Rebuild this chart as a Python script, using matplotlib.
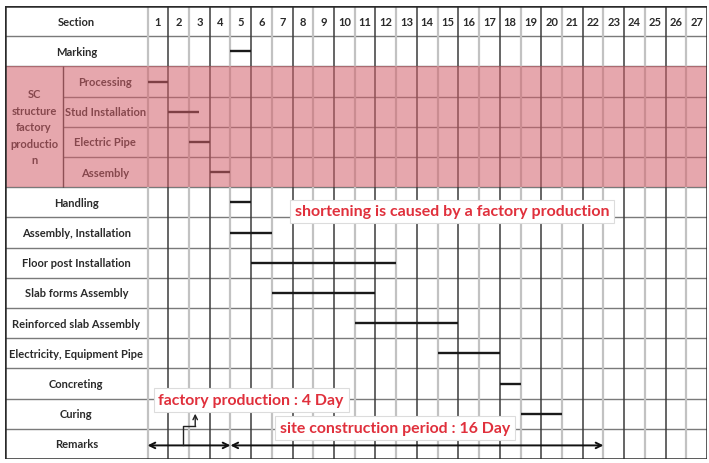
import matplotlib.pyplot as plt
import matplotlib.patches as mpatches

# ---- data ----
days = list(range(1, 28))
tasks = ["Marking", "Processing", "Stud Installation", "Electric Pipe", "Assembly",
         "Handling", "Assembly, Installation", "Floor post Installation",
         "Slab forms Assembly", "Reinforced slab Assembly",
         "Electricity, Equipment Pipe", "Concreting", "Curing"]
starts = [4, 0, 1, 2, 3, 4, 4, 5, 6, 10, 14, 17, 18]
ends = [5, 1, 2.5, 3, 4, 5, 6, 12, 11, 15, 17, 18, 20]
factory_tasks = ["Processing", "Stud Installation", "Electric Pipe", "Assembly"]
group_label = "SC\nstructure\nfactory\nproductio\nn"
factory_period = (0, 4)
site_period = (4, 22)
note_shorten = "shortening is caused by a factory production"
note_factory = "factory production : 4 Day"
note_site = "site construction period : 16 Day"

FONT = ["Lato", "DejaVu Sans"]
RED = "#e0303c"
TXT = "#2a2a2a"
LBL = 8

n_cols = len(days)
rows = ["Section"] + tasks + ["Remarks"]
n_rows = len(rows)
x_left = -6.88      # left edge of label area (in day units)
x_sub = -4.08       # divider between group column and sub-task column

fig = plt.figure(figsize=(7.09, 4.64), dpi=100)
ax = fig.add_axes([5 / 709, 4 / 464, 702 / 709, 453 / 464])
ax.set_xlim(x_left, n_cols)
ax.set_ylim(n_rows, 0)
ax.axis("off")

# ---- grid ----
first_f = rows.index(factory_tasks[0])
last_f = rows.index(factory_tasks[-1]) + 1
for r in range(1, n_rows):
    x0 = x_sub if first_f < r < last_f else x_left
    ax.hlines(r, x0, n_cols, color="#7a7a7a", lw=1.0, zorder=1)
for c in range(0, n_cols):
    if c % 2 == 1:
        ax.vlines(c, 0, n_rows, color="#3c3c3c", lw=1.1, zorder=1)
    else:
        ax.vlines(c, 0, n_rows, color="#c2c2c2", lw=1.6, zorder=1)
ax.vlines(x_sub, first_f, last_f, color="#3c3c3c", lw=1.0, zorder=1)
ax.add_patch(mpatches.Rectangle((x_left, 0), n_cols - x_left, n_rows, fill=False,
                                ec="#2a2a2a", lw=1.8, zorder=6))

# ---- header ----
ax.text(x_left / 2, 0.5, rows[0], ha="center", va="center", fontsize=LBL,
        fontweight="bold", family=FONT, color=TXT)
for i, d in enumerate(days):
    ax.text(i + 0.5, 0.5, str(d), ha="center", va="center", fontsize=LBL,
            fontweight="bold", family=FONT, color=TXT)

# ---- row labels ----
for r, name in enumerate(rows[1:], start=1):
    if name in factory_tasks:
        xc = (x_sub + 0) / 2
    else:
        xc = x_left / 2
    ax.text(xc, r + 0.5, name, ha="center", va="center", fontsize=LBL,
            fontweight="bold", family=FONT, color=TXT)
ax.text((x_left + x_sub) / 2, (first_f + last_f) / 2, group_label, ha="center",
        va="center", fontsize=LBL, fontweight="bold", family=FONT, color=TXT,
        linespacing=1.6)

# ---- bars ----
for r, (s, e) in enumerate(zip(starts, ends), start=1):
    ax.hlines(r + 0.5, s, e, color="#1a1a1a", lw=1.7, zorder=3)

# ---- factory production tint ----
ax.add_patch(mpatches.Rectangle((x_left, first_f), n_cols - x_left, last_f - first_f,
                                fc="#d2606a", ec="none", alpha=0.55, zorder=5))

# ---- remarks arrows ----
ry = n_rows - 0.45
ax.annotate("", xy=(factory_period[1], ry), xytext=(factory_period[0], ry),
            arrowprops=dict(arrowstyle="<->", color="#111111", lw=1.4,
                            shrinkA=0, shrinkB=0, mutation_scale=10), zorder=4)
ax.annotate("", xy=(site_period[1], ry), xytext=(site_period[0], ry),
            arrowprops=dict(arrowstyle="<->", color="#111111", lw=1.4,
                            shrinkA=0, shrinkB=0, mutation_scale=10), zorder=4)
bx = factory_period[0] + 1.7
ax.plot([bx, bx, bx + 0.6], [ry, ry - 0.64, ry - 0.64], color="#222222", lw=1.0, zorder=4)
ax.annotate("", xy=(bx + 0.6, ry - 1.05), xytext=(bx + 0.6, ry - 0.64),
            arrowprops=dict(arrowstyle="->", color="#222222", lw=1.0,
                            shrinkA=0, shrinkB=0, mutation_scale=8), zorder=4)

# ---- notes ----
box = dict(boxstyle="square,pad=0.3", fc="white", ec="#dcdcdc", lw=0.8)
ax.text(14.7, 6.8, note_shorten, ha="center", va="center", fontsize=11.5,
        fontweight="bold", family=FONT, color=RED, bbox=box, zorder=7)
ax.text(5.0, 13.05, note_factory, ha="center", va="center", fontsize=11.4,
        fontweight="bold", family=FONT, color=RED, bbox=box, zorder=7)
ax.text(11.95, 13.97, note_site, ha="center", va="center", fontsize=11.4,
        fontweight="bold", family=FONT, color=RED, bbox=box, zorder=7)

fig.savefig("out.png", dpi=100)
